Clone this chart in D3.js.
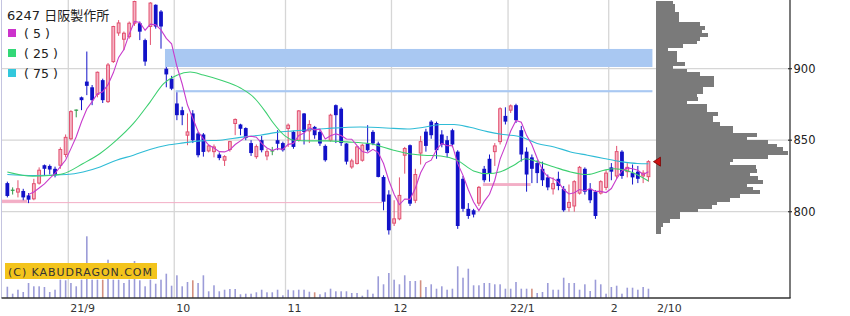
<!DOCTYPE html>
<html><head><meta charset="utf-8">
<script src="https://cdn.jsdelivr.net/npm/d3@7"></script>
<style>
html,body{margin:0;padding:0;background:#fff;}
svg{display:block;}
</style></head><body>
<svg id="c" width="850" height="316"></svg>
<script>
// ---------------- data ----------------
const title = "6247 日阪製作所";
const startDate = "2021-08-16", endDate = "2022-02-10";
const holidays = ["2021-09-20","2021-09-23","2021-11-03","2021-11-23","2021-12-31","2022-01-03","2022-01-10"];

const open = [820,815,813.7,814.5,811.4,809,820,832.5,832,830,832.5,840,851,871,880,891,887,882,892,877,
905,925,920.6,922.4,931.8,931.8,920,929.5,944.7,940,900,893,875.7,871,853.5,868.7,854.7,854,842.5,842,
840,836,843.5,861.7,861,858.5,848,838.5,850,839,842.5,850,848,858.2,855.8,850,868.7,856.5,859.3,855.8,
846,850,874.5,872,847.7,831.3,833.7,836,847.7,855.8,847.7,824.3,812,792,795,839.5,846.5,808,841,856,
863,862,854,850,857,842,823,802,801,806,830,837,842,849,867,871,874.5,857,842,838,
834,830,824,816,823,816,803,804,813,830,816,814,813,817,831,825,842,828,827,828,825,824.5];
const high = [821,817,822,816,813,823,831,833,833,831.5,845,854,871,871.5,880.5,912,888.6,898,893,904,
930,934,926,933,947.5,933,921,946.5,945,941,901.2,895,883.5,873.4,868.7,871,855.8,855,847,847,
841.5,839.5,849.5,865.2,861.5,859,850,847,853,844,845.3,857,849,861.7,856.5,871,869,864,860,857,
847,868.5,875,873,848,837,846,847.5,860.5,857,849,825.5,815,808,824,845.3,847,830,853,858,
864,863,857,853,858,843,825,806,802,818,832,840,848,873,873,875,875.5,860,845,840,
836,835,826,824,828,818,819,822,832,831,820,815,822,829,834,846,843,834,833,832,829,836];
const low = [810,812,810,808,806,808,819,825,826,824,830,838,850,866,871,881.5,874.5,880,876,876,
904,923,913,921,930,920,902,916.6,928,914,887,885,864,860.5,846.5,848,838,838.5,841.5,838,
836,832,842,853.5,853.5,850,839,837,841.5,836,839.5,843,842,845.3,844,849,847,848,851,846,
835,849,848,846,833,830,833,835,842,846.5,824,801,784,790,794,826.6,804,806,833,842,
851,837,845,838,845,788,800,795,796,804,820.5,821,832,847,861,869,862,835,814,820,
820,818,815,812,815,800,800,800,812,812,806,795,812,815,822,823,823,824,819,820,820,821];
const close = [811,815,816,810,808.4,819.6,829,830,829.5,825.5,843.5,852,870,871,878,888,878,897.5,878,902.6,
929.5,932,924.8,931.8,947,925.9,905,945.9,929.5,929.5,896,886,867.5,867.5,855.8,850,839.5,841.8,846,845.3,
837.5,838.5,849,864.5,858,851.5,841,845.5,843,842,842.5,847.5,843,860.5,845.3,870.5,855.8,861,853.5,847.7,
836,867.5,867.5,848,835,835.5,845.3,846.5,843,847.7,824.3,807,787,795,811.4,844.2,805.6,826,849,846,
853.5,843,847,841,847,790,802,797,798,817,822,827,846,872,863,874,864,840,826,830,
827,822,817,819.6,818,801,806.5,821,831,814,808,797,821,827,828,842,825,831,824,823,827,835];
// volume (thousand shares)
const volume = [113,43,83,60,150,117,117,110,60,83,183,177,150,117,183,617,183,183,183,383,
183,183,150,183,370,177,117,183,143,183,243,123,227,117,160,177,150,227,67,127,
67,83,90,90,37,43,43,57,83,57,57,83,27,83,77,83,83,63,57,37,
57,93,67,67,67,50,50,23,83,43,217,137,250,183,137,227,170,170,177,110,
137,93,117,83,93,317,203,293,127,127,150,150,137,137,93,93,160,93,93,93,
50,60,150,83,83,203,150,150,83,137,70,183,137,43,110,123,43,103,103,83,110,93];
// days whose volume bar is drawn in the alternate (red) colour
const volumeMarkedDays = ["2021-09-09","2021-10-06","2021-11-09","2021-12-08","2022-01-11"];

// moving averages: [day index, value]
const ma25Points = [[0,827.8],[4.8,824.8],[8,825.3],[10.5,826.5],[14.3,833.7],[17.5,840.7],[20.6,850],[23.8,861.7],
[26.9,876.5],[29.5,889.5],[32,895.5],[34.5,897.7],[37,895.6],[40.2,892.1],[44,886.5],[46.5,880],[48.7,870],[50.2,862],
[52.4,853],[54,850],[57.2,849.5],[60.3,849.5],[64.1,848.8],[68.5,847.5],[72.9,843],[75.5,840.7],[78.6,839.5],[81.8,839],
[84.9,836],[88,828.5],[90.6,826.6],[93.1,828],[95.6,832.5],[97.8,837],[100,835],[103.2,831.3],[106.3,827.8],[109.5,826],
[112.6,829],[114.5,830],[117.7,827.8],[121,821.5]];
const ma75Points = [[0,826],[5,825.3],[11.2,826],[14.3,827.8],[17.5,831.3],[20.6,836],[23.8,839.5],[26.9,843.5],
[30.1,846.5],[33.2,848.1],[36.4,849.5],[40.2,850],[44,852],[47.7,853.5],[50.9,855.5],[54,856.5],[60.3,858.2],[66.6,859.2],
[72.9,858.3],[75.5,857.8],[78.6,859],[81.8,861],[84.3,861],[87.3,859],[90.6,856],[93.6,854],[97,852.3],[100,847.7],
[103.2,845.3],[106.3,841.8],[109.5,839.5],[112.6,837.2],[115.8,835],[118.9,833.7],[121,833.5]];
const maPeriods = [5, 25, 75];

// unfilled price gaps: from day index (-1 = before chart) to day index, price range, kind
const gapFrom = [-1, -1, 29, 31, 89];
const gapTo   = [3, 70, 121, 121, 98];
const gapLo   = [806.3, 806.0, 901.2, 883.5, 818];
const gapHi   = [808.4, 806.7, 913.8, 885.0, 820];
const gapKind = ["up","up","down","down","up"];

// price-by-volume profile, 2.5 yen buckets from 945 down to 785 (bucket low)
const profileVolume = [17,19,19,23,23,23,44,49,46,52,44,41,27,12,21,21,21,29,17,31,44,58,58,58,47,47,41,42,31,51,
51,62,57,57,64,77,77,101,91,112,121,127,132,112,77,74,100,101,94,102,107,91,97,104,84,74,61,56,42,24,24,14,7,5,5];
const profileTop = 945, profileStep = 2.5;

const priceTicks = [800, 850, 900];
const monthLabels = ["21/9","10","11","12","22/1","2"];
const lastLabel = "2/10";
const copyright = "(C) KABUDRAGON.COM";

// ---------------- chart ----------------
const svg = d3.select("#c");
const parse = d3.utcParse("%Y-%m-%d"), fmt = d3.utcFormat("%Y-%m-%d");
const dates = d3.utcDay.range(parse(startDate), d3.utcDay.offset(parse(endDate), 1))
  .filter(d => d.getUTCDay() % 6 !== 0 && !holidays.includes(fmt(d))).map(fmt);
const n = dates.length;

const x = d3.scaleBand().domain(dates).range([4.7, 651.1]).padding(0);
const step = x.step();
const xc = d => x(d) + step / 2;
const xi = d3.scaleLinear().domain([0, n - 1]).range([xc(dates[0]), xc(dates[n - 1])]);
const y = d3.scaleLinear().domain([800, 900]).range([211.7, 68.7]);
const yv = d3.scaleLinear().domain([0, 1000]).range([298, 198]);
const px = d3.scaleLinear().domain([0, 132]).range([656, 788]);

const plotL = 1.5, plotR = 790, plotB = 298;

// month starts
const monthStarts = dates.filter((d, i) => i === 0 ? false : d.slice(0, 7) !== dates[i - 1].slice(0, 7));

// grid
const grid = svg.append("g");
grid.selectAll("line.h").data(priceTicks).join("line")
  .attr("x1", plotL).attr("x2", plotR).attr("y1", d => y(d)).attr("y2", d => y(d))
  .attr("stroke", "#d6d6d6").attr("stroke-width", 1.2);
grid.selectAll("line.v").data(monthStarts).join("line")
  .attr("x1", d => x(d)).attr("x2", d => x(d)).attr("y1", 0).attr("y2", plotB)
  .attr("stroke", "#d6d6d6").attr("stroke-width", 1.3);

// left frame
svg.append("line").attr("x1", plotL).attr("x2", plotL).attr("y1", 0).attr("y2", plotB)
  .attr("stroke", "#c4c4e0").attr("stroke-width", 1);

// volume bars
svg.append("g").selectAll("rect").data(dates).join("rect")
  .attr("x", d => xc(d) - 0.8).attr("width", 1.6)
  .attr("y", (d, i) => yv(volume[i])).attr("height", (d, i) => plotB - yv(volume[i]))
  .attr("fill", d => volumeMarkedDays.includes(d) ? "#d39080" : "#9c9cd8");

// gap bands
const gapIdx = d3.range(gapFrom.length);
const gx0 = k => gapFrom[k] < 0 ? plotL + 0.5 : xi(gapFrom[k]) + step * 0.75;
svg.append("g").selectAll("rect").data(gapIdx).join("rect")
  .attr("x", gx0)
  .attr("width", k => xi(gapTo[k]) + step * 0.75 - gx0(k))
  .attr("y", k => y(gapHi[k])).attr("height", k => y(gapLo[k]) - y(gapHi[k]))
  .attr("fill", k => gapKind[k] === "down" ? "#a9c8f2" : "#f3aec6");

// candles
const cg = svg.append("g");
dates.forEach((d, i) => {
  const o = open[i], c = close[i], h = high[i], l = low[i];
  const cx = xc(d), bw = 3.8;
  const up = c > o, doji = c === o;
  const col = doji ? "#2f9a4a" : (up ? "#e2506f" : "#1212c8");
  cg.append("line").attr("x1", cx).attr("x2", cx).attr("y1", y(h)).attr("y2", y(l))
    .attr("stroke", col).attr("stroke-width", 1);
  if (doji) {
    cg.append("line").attr("x1", cx - bw / 2).attr("x2", cx + bw / 2).attr("y1", y(o)).attr("y2", y(o))
      .attr("stroke", col).attr("stroke-width", 1.2);
  } else if (up) {
    cg.append("rect").attr("x", cx - bw / 2 + 0.5).attr("width", bw - 1)
      .attr("y", y(c)).attr("height", Math.max(1, y(o) - y(c)))
      .attr("fill", "#f5b6c6").attr("stroke", col).attr("stroke-width", 1);
  } else {
    cg.append("rect").attr("x", cx - bw / 2).attr("width", bw)
      .attr("y", y(o)).attr("height", Math.max(1, y(c) - y(o)))
      .attr("fill", col);
  }
});

// moving averages
const ma5 = d3.range(maPeriods[0] - 1, n).map(i => [i, d3.mean(close.slice(i - maPeriods[0] + 1, i + 1))]);
const lineGen = d3.line().x(p => xi(p[0])).y(p => y(p[1])).curve(d3.curveMonotoneX);
svg.append("path").attr("d", lineGen(ma75Points)).attr("fill", "none").attr("stroke", "#2fbcd6").attr("stroke-width", 1.1);
svg.append("path").attr("d", lineGen(ma25Points)).attr("fill", "none").attr("stroke", "#3ccf70").attr("stroke-width", 1.1);
svg.append("path").attr("d", d3.line().x(p => xi(p[0])).y(p => y(p[1]))(ma5)).attr("fill", "none").attr("stroke", "#c83ccc").attr("stroke-width", 1.1);

// volume profile
svg.append("g").attr("shape-rendering", "crispEdges").selectAll("rect").data(profileVolume).join("rect")
  .attr("x", px(0)).attr("width", v => px(v) - px(0))
  .attr("y", (v, k) => y(profileTop - k * profileStep + profileStep))
  .attr("height", y(0) - y(profileStep) + 0.6)
  .attr("fill", "#7a7a7a");

// current price marker
const lastC = close[n - 1], lx = xc(dates[n - 1]);
svg.append("path")
  .attr("d", `M${lx + 5},${y(lastC)} L${lx + 12},${y(lastC) - 4.5} L${lx + 12},${y(lastC) + 4.5} Z`)
  .attr("fill", "#cc1111").attr("stroke", "#7a0000").attr("stroke-width", 0.8);

// axes
svg.append("line").attr("x1", plotR).attr("x2", plotR).attr("y1", 0).attr("y2", plotB).attr("stroke", "#333").attr("stroke-width", 1.3);
svg.append("line").attr("x1", plotL).attr("x2", plotR + 0.6).attr("y1", plotB).attr("y2", plotB).attr("stroke", "#333").attr("stroke-width", 1.3);
svg.append("g").selectAll("line").data(priceTicks).join("line")
  .attr("x1", plotR - 2).attr("x2", plotR + 2).attr("y1", d => y(d)).attr("y2", d => y(d))
  .attr("stroke", "#333").attr("stroke-width", 1.2);
svg.append("g").selectAll("text").data(priceTicks).join("text")
  .attr("x", plotR + 3.5).attr("y", d => y(d) + 4.2)
  .attr("font-family", "DejaVu Sans, sans-serif").attr("font-size", 11.5).attr("fill", "#222")
  .text(d => d);
svg.append("g").selectAll("text").data(monthStarts).join("text")
  .attr("x", d => x(d) + 2).attr("y", 311.5)
  .attr("font-family", "DejaVu Sans, sans-serif").attr("font-size", 11).attr("fill", "#333")
  .text((d, k) => monthLabels[k]);
svg.append("text").attr("x", x.range()[1] + 6).attr("y", 311.5)
  .attr("font-family", "DejaVu Sans, sans-serif").attr("font-size", 11).attr("fill", "#333")
  .text(lastLabel);

// legend
svg.append("text").attr("x", 7).attr("y", 20)
  .attr("font-family", "DejaVu Sans, 'Noto Sans CJK JP', sans-serif").attr("font-size", 13).attr("fill", "#222")
  .text(title);
const legendColors = ["#cc33cc", "#33d877", "#33c8dc"];
const lg = svg.append("g");
maPeriods.forEach((p, k) => {
  lg.append("rect").attr("x", 8).attr("y", 29 + k * 20).attr("width", 8).attr("height", 8).attr("fill", legendColors[k]);
  lg.append("text").attr("x", 24).attr("y", 38 + k * 20)
    .attr("font-family", "DejaVu Sans, sans-serif").attr("font-size", 12.5).attr("fill", "#222")
    .attr("xml:space", "preserve")
    .text("(\u2004" + p + "\u2004)");
});

// copyright
svg.append("rect").attr("x", 5).attr("y", 263).attr("width", 152).attr("height", 16).attr("fill", "#f3c41c");
svg.append("text").attr("x", 8).attr("y", 275.5)
  .attr("font-family", "DejaVu Sans, sans-serif").attr("font-size", 11).attr("fill", "#333")
  .attr("textLength", 144).attr("lengthAdjust", "spacing")
  .text(copyright);
</script>
</body></html>
